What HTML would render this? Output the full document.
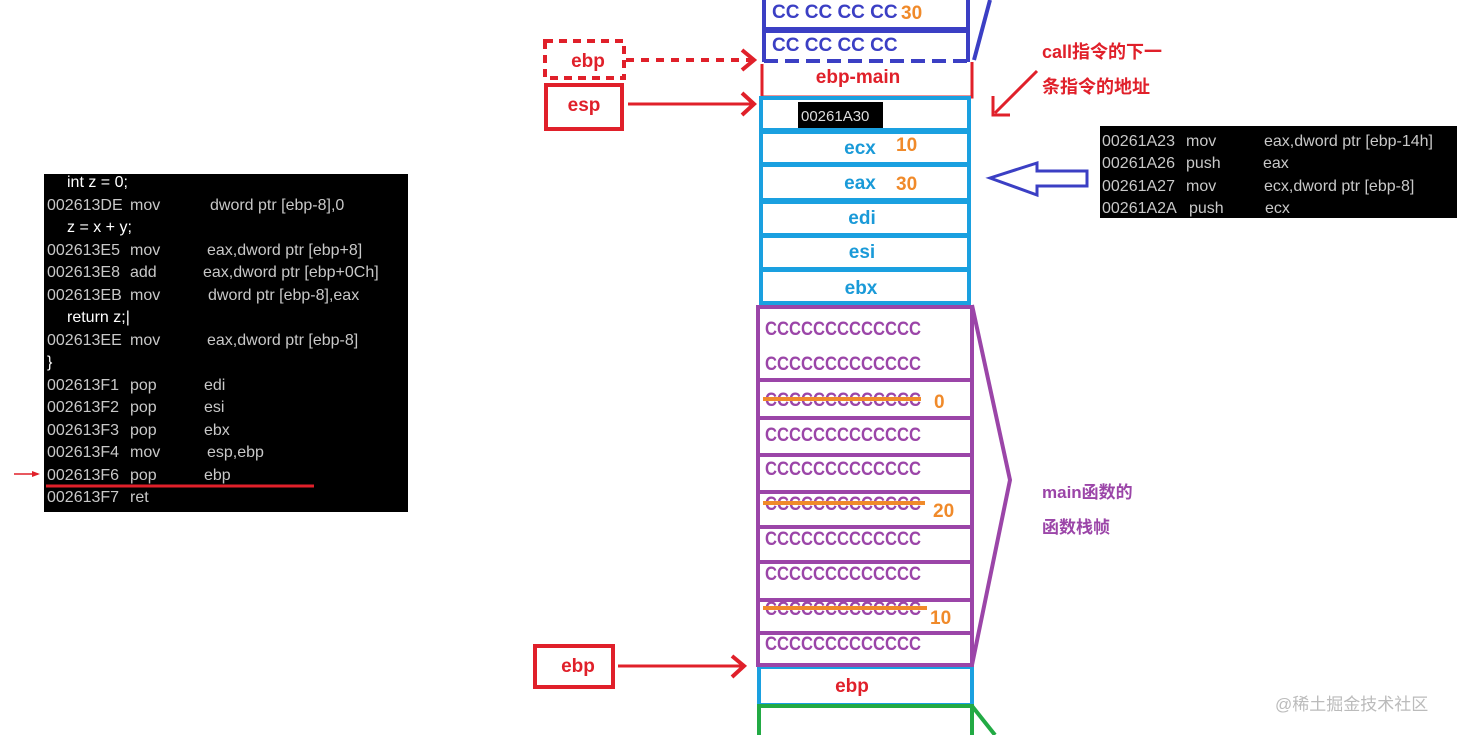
<!DOCTYPE html>
<html><head><meta charset="utf-8"><style>
body{margin:0;width:1457px;height:735px;background:#fff;overflow:hidden}
svg{display:block}
.b{font-family:"Liberation Sans","Noto Sans CJK SC",sans-serif;font-weight:bold}
.c{font-family:"Liberation Sans",sans-serif;font-size:16px;fill:#c8c8c8}
.w{fill:#fff}
.p{fill:#9b45a8;font-size:19px}
</style></head><body>
<svg width="1457" height="735" viewBox="0 0 1457 735">
<rect x="44" y="174" width="364" height="338" fill="#000"/>
<g class="c">
<text x="67" y="187" class="w">int z = 0;</text>
<text x="47" y="210">002613DE</text><text x="130" y="210">mov</text><text x="210" y="210">dword ptr [ebp-8],0</text>
<text x="67" y="232" class="w">z = x + y;</text>
<text x="47" y="255">002613E5</text><text x="130" y="255">mov</text><text x="207" y="255">eax,dword ptr [ebp+8]</text>
<text x="47" y="277">002613E8</text><text x="130" y="277">add</text><text x="203" y="277">eax,dword ptr [ebp+0Ch]</text>
<text x="47" y="300">002613EB</text><text x="130" y="300">mov</text><text x="208" y="300">dword ptr [ebp-8],eax</text>
<text x="67" y="322" class="w">return z;|</text>
<text x="47" y="345">002613EE</text><text x="130" y="345">mov</text><text x="207" y="345">eax,dword ptr [ebp-8]</text>
<text x="47" y="367" class="w">}</text>
<text x="47" y="390">002613F1</text><text x="130" y="390">pop</text><text x="204" y="390">edi</text>
<text x="47" y="412">002613F2</text><text x="130" y="412">pop</text><text x="204" y="412">esi</text>
<text x="47" y="435">002613F3</text><text x="130" y="435">pop</text><text x="204" y="435">ebx</text>
<text x="47" y="457">002613F4</text><text x="130" y="457">mov</text><text x="207" y="457">esp,ebp</text>
<text x="47" y="480">002613F6</text><text x="130" y="480">pop</text><text x="204" y="480">ebp</text>
<text x="47" y="502">002613F7</text><text x="130" y="502">ret</text>
</g>
<line x1="46" y1="486" x2="314" y2="486" stroke="#e0202a" stroke-width="3"/>
<line x1="14" y1="474" x2="38" y2="474" stroke="#e0202a" stroke-width="1.5"/>
<path d="M32 471 L40 474 L32 477Z" fill="#e0202a"/>

<rect x="1100" y="126" width="357" height="92" fill="#000"/>
<g class="c">
<text x="1102" y="146">00261A23</text><text x="1186" y="146">mov</text><text x="1264" y="146">eax,dword ptr [ebp-14h]</text>
<text x="1102" y="168">00261A26</text><text x="1186" y="168">push</text><text x="1263" y="168">eax</text>
<text x="1102" y="191">00261A27</text><text x="1186" y="191">mov</text><text x="1264" y="191">ecx,dword ptr [ebp-8]</text>
<text x="1102" y="213">00261A2A</text><text x="1189" y="213">push</text><text x="1265" y="213">ecx</text>
</g>

<g fill="none" stroke="#3b3fc4" stroke-width="4">
<rect x="764" y="-5" width="204" height="34"/>
<line x1="764" y1="31" x2="968" y2="31"/>
<line x1="764" y1="29" x2="764" y2="62"/>
<line x1="968" y1="29" x2="968" y2="62"/>
<line x1="764" y1="61" x2="974" y2="61" stroke-dasharray="14,7"/>
<line x1="974" y1="60" x2="990" y2="0"/>
</g>
<g class="b" font-size="19" fill="#3b3fc4">
<text x="772" y="18">CC CC CC CC</text>
<text x="772" y="51">CC CC CC CC</text>
</g>
<text x="901" y="19" class="b" font-size="19" fill="#f08a2a">30</text>

<path d="M762 64 V97 H972 V62" fill="none" stroke="#e0202a" stroke-width="3"/>
<text x="858" y="83" class="b" font-size="19" fill="#e0202a" text-anchor="middle">ebp-main</text>

<g fill="none" stroke="#1aa0e0" stroke-width="4">
<rect x="761" y="98" width="208" height="32"/>
<rect x="761" y="132" width="208" height="32"/>
<rect x="761" y="165" width="208" height="35"/>
<rect x="761" y="202" width="208" height="33"/>
<rect x="761" y="236" width="208" height="33"/>
<rect x="761" y="270" width="208" height="33"/>
<rect x="759" y="667" width="213" height="38"/>
</g>
<rect x="798" y="102" width="85" height="26" fill="#000"/>
<text x="801" y="121" font-family="Liberation Sans,sans-serif" font-size="15" fill="#ddd">00261A30</text>
<g class="b" font-size="19" fill="#1a9ad8" text-anchor="middle">
<text x="860" y="154">ecx</text>
<text x="860" y="189">eax</text>
<text x="862" y="224">edi</text>
<text x="862" y="258">esi</text>
<text x="861" y="294">ebx</text>
</g>
<g class="b" font-size="19" fill="#f08a2a">
<text x="896" y="151">10</text><text x="896" y="190">30</text>
</g>
<text x="852" y="692" class="b" font-size="19" fill="#e0202a" text-anchor="middle">ebp</text>

<g fill="none" stroke="#9b45a8" stroke-width="4">
<rect x="758" y="307" width="214" height="358"/>
<line x1="758" y1="380" x2="972" y2="380"/>
<line x1="758" y1="418" x2="972" y2="418"/>
<line x1="758" y1="455" x2="972" y2="455"/>
<line x1="758" y1="492" x2="972" y2="492"/>
<line x1="758" y1="527" x2="972" y2="527"/>
<line x1="758" y1="562" x2="972" y2="562"/>
<line x1="758" y1="600" x2="972" y2="600"/>
<line x1="758" y1="633" x2="972" y2="633"/>
<polyline points="972,305 1010,480 972,665"/>
</g>
<g class="b p">
<text x="765" y="335" textLength="156" lengthAdjust="spacingAndGlyphs">CCCCCCCCCCCCC</text>
<text x="765" y="370" textLength="156" lengthAdjust="spacingAndGlyphs">CCCCCCCCCCCCC</text>
<text x="765" y="406" textLength="156" lengthAdjust="spacingAndGlyphs">CCCCCCCCCCCCC</text>
<text x="765" y="441" textLength="156" lengthAdjust="spacingAndGlyphs">CCCCCCCCCCCCC</text>
<text x="765" y="475" textLength="156" lengthAdjust="spacingAndGlyphs">CCCCCCCCCCCCC</text>
<text x="765" y="510" textLength="156" lengthAdjust="spacingAndGlyphs">CCCCCCCCCCCCC</text>
<text x="765" y="545" textLength="156" lengthAdjust="spacingAndGlyphs">CCCCCCCCCCCCC</text>
<text x="765" y="580" textLength="156" lengthAdjust="spacingAndGlyphs">CCCCCCCCCCCCC</text>
<text x="765" y="615" textLength="156" lengthAdjust="spacingAndGlyphs">CCCCCCCCCCCCC</text>
<text x="765" y="650" textLength="156" lengthAdjust="spacingAndGlyphs">CCCCCCCCCCCCC</text>
</g>
<g stroke="#f08a2a" stroke-width="4">
<line x1="763" y1="399" x2="921" y2="399"/>
<line x1="763" y1="503" x2="925" y2="503"/>
<line x1="763" y1="608" x2="927" y2="608"/>
</g>
<g class="b" font-size="19" fill="#f08a2a">
<text x="934" y="408">0</text><text x="933" y="517">20</text><text x="930" y="624">10</text>
</g>
<g class="b" font-size="17" fill="#9b45a8">
<text x="1042" y="498">main函数的</text>
<text x="1042" y="533">函数栈帧</text>
</g>

<path d="M759 735 V706 H972 V735 M972 706 L995 735" fill="none" stroke="#22aa44" stroke-width="4"/>

<rect x="545" y="41" width="79" height="37" fill="none" stroke="#e0202a" stroke-width="4" stroke-dasharray="8,6"/>
<text x="588" y="67" class="b" font-size="19" fill="#e0202a" text-anchor="middle">ebp</text>
<line x1="626" y1="60" x2="752" y2="60" stroke="#e0202a" stroke-width="4" stroke-dasharray="8,7"/>
<path d="M742 50 L754 60 L742 70" fill="none" stroke="#e0202a" stroke-width="4"/>
<rect x="546" y="85" width="76" height="44" fill="none" stroke="#e0202a" stroke-width="4"/>
<text x="584" y="111" class="b" font-size="19" fill="#e0202a" text-anchor="middle">esp</text>
<line x1="628" y1="104" x2="754" y2="104" stroke="#e0202a" stroke-width="3"/>
<path d="M742 93 L754 104 L742 115" fill="none" stroke="#e0202a" stroke-width="4"/>
<rect x="535" y="646" width="78" height="41" fill="none" stroke="#e0202a" stroke-width="4"/>
<text x="578" y="672" class="b" font-size="19" fill="#e0202a" text-anchor="middle">ebp</text>
<line x1="618" y1="666" x2="744" y2="666" stroke="#e0202a" stroke-width="3"/>
<path d="M732 656 L744 666 L732 677" fill="none" stroke="#e0202a" stroke-width="4"/>

<g class="b" font-size="18" fill="#e0202a">
<text x="1042" y="58">call指令的下一</text>
<text x="1042" y="93">条指令的地址</text>
</g>
<line x1="1037" y1="71" x2="995" y2="113" stroke="#e0202a" stroke-width="3"/>
<path d="M993 96 L993 115 L1010 115" fill="none" stroke="#e0202a" stroke-width="3"/>

<path d="M990 178 L1037 163 L1037 171 L1087 171 L1087 186 L1037 186 L1037 195 Z" fill="none" stroke="#3b3fc4" stroke-width="3"/>

<text x="1275" y="710" font-family="Liberation Sans,Noto Sans CJK SC,sans-serif" font-size="17" fill="#bbb">@稀土掘金技术社区</text>
</svg>
</body></html>
